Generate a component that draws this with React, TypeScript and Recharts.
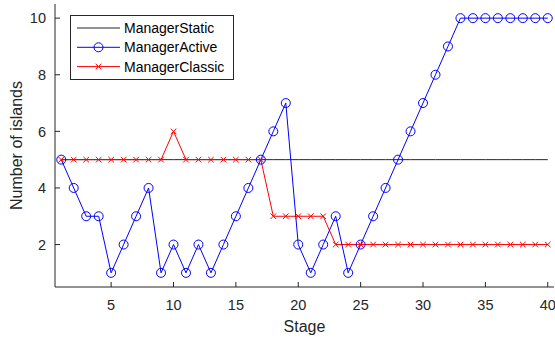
import React from 'react';
import { LineChart, Line, XAxis, YAxis } from 'recharts';

const stages = [1, 2, 3, 4, 5, 6, 7, 8, 9, 10, 11, 12, 13, 14, 15, 16, 17, 18, 19, 20, 21, 22, 23, 24, 25, 26, 27, 28, 29, 30, 31, 32, 33, 34, 35, 36, 37, 38, 39, 40];
const managerStatic = [5, 5, 5, 5, 5, 5, 5, 5, 5, 5, 5, 5, 5, 5, 5, 5, 5, 5, 5, 5, 5, 5, 5, 5, 5, 5, 5, 5, 5, 5, 5, 5, 5, 5, 5, 5, 5, 5, 5, 5];
const managerActive = [5, 4, 3, 3, 1, 2, 3, 4, 1, 2, 1, 2, 1, 2, 3, 4, 5, 6, 7, 2, 1, 2, 3, 1, 2, 3, 4, 5, 6, 7, 8, 9, 10, 10, 10, 10, 10, 10, 10, 10];
const managerClassic = [5, 5, 5, 5, 5, 5, 5, 5, 5, 6, 5, 5, 5, 5, 5, 5, 5, 3, 3, 3, 3, 3, 2, 2, 2, 2, 2, 2, 2, 2, 2, 2, 2, 2, 2, 2, 2, 2, 2, 2];
const xTicks = [5, 10, 15, 20, 25, 30, 35, 40];
const yTicks = [2, 4, 6, 8, 10];
const seriesNames = ['ManagerStatic', 'ManagerActive', 'ManagerClassic'];

const data = stages.map((s, i) => ({
  stage: s,
  st: managerStatic[i],
  ac: managerActive[i],
  cl: managerClassic[i],
}));

const AX = '#262626';
const FONT = '"Liberation Sans", Arial, Helvetica, sans-serif';
const TL = 5;
const TICK_FS = 14.5;

const BottomTick = (p: any) => (
  <g>
    <line x1={p.x} x2={p.x} y1={p.y} y2={p.y - TL} stroke={AX} strokeWidth={1} />
    <text x={p.x} y={p.y + 23} textAnchor="middle" fontSize={TICK_FS} fill={AX} fontFamily={FONT}>
      {p.payload.value}
    </text>
  </g>
);
const TopTick = (p: any) => (
  <line x1={p.x} x2={p.x} y1={p.y} y2={p.y + TL} stroke={AX} strokeWidth={1} />
);
const LeftTick = (p: any) => (
  <g>
    <line x1={p.x} x2={p.x + TL} y1={p.y} y2={p.y} stroke={AX} strokeWidth={1} />
    <text x={p.x - 9} y={p.y + 5.2} textAnchor="end" fontSize={TICK_FS} fill={AX} fontFamily={FONT}>
      {p.payload.value}
    </text>
  </g>
);
const RightTick = (p: any) => (
  <line x1={p.x} x2={p.x - TL} y1={p.y} y2={p.y} stroke={AX} strokeWidth={1} />
);

const CircleDot = (p: any) => (
  <circle key={`c${p.index}`} cx={p.cx} cy={p.cy} r={4.5} fill="none" stroke="#0000ff" strokeWidth={1} />
);
const CrossDot = (p: any) => (
  <path
    key={`x${p.index}`}
    d={`M${p.cx - 2.8},${p.cy - 2.8}L${p.cx + 2.8},${p.cy + 2.8}M${p.cx - 2.8},${p.cy + 2.8}L${p.cx + 2.8},${p.cy - 2.8}`}
    stroke="#ff0000"
    strokeWidth={1}
    fill="none"
  />
);

const legendColors = ['#262626', '#0000ff', '#ff0000'];

const LegendBox = () => (
  <svg
    width={164}
    height={65}
    style={{ position: 'absolute', left: 70, top: 15, overflow: 'visible' }}
  >
    <rect x={0.5} y={0.5} width={163} height={64} fill="#ffffff" stroke={AX} strokeWidth={1} />
    {seriesNames.map((name, i) => {
      const cy = 13 + i * 19.3;
      return (
        <g key={name}>
          <line x1={7} x2={50} y1={cy} y2={cy} stroke={legendColors[i]} strokeWidth={1} />
          {i === 1 && <circle cx={28.5} cy={cy} r={4.5} fill="none" stroke="#0000ff" strokeWidth={1} />}
          {i === 2 && (
            <path
              d={`M${28.5 - 2.8},${cy - 2.8}L${28.5 + 2.8},${cy + 2.8}M${28.5 - 2.8},${cy + 2.8}L${28.5 + 2.8},${cy - 2.8}`}
              stroke="#ff0000"
              strokeWidth={1}
            />
          )}
          <text x={54} y={cy + 5} fontSize={14} fill="#000" fontFamily={FONT}>
            {name}
          </text>
        </g>
      );
    })}
  </svg>
);

export default function App() {
  return (
    <div style={{ position: 'relative', width: 555, height: 339, background: '#fff' }}>
      <style>{'body{margin:0;}'}</style>
      <LineChart
        width={555}
        height={339}
        data={data}
        margin={{ top: 4, right: 1, bottom: 0, left: 0 }}
        style={{ fontFamily: FONT }}
      >
        <XAxis
          xAxisId="b"
          dataKey="stage"
          type="number"
          domain={[0.5, 40.5]}
          ticks={xTicks}
          orientation="bottom"
          height={52}
          tickSize={0}
          tickMargin={0}
          tickLine={false}
          axisLine={{ stroke: AX }}
          tick={BottomTick}
          interval={0}
          label={{ value: 'Stage', position: 'insideBottom', offset: 7.3, fontSize: 16, fill: AX, fontFamily: FONT }}
        />
        <XAxis
          xAxisId="t"
          dataKey="stage"
          type="number"
          domain={[0.5, 40.5]}
          ticks={xTicks}
          orientation="top"
          height={0}
          tickSize={0}
          tickMargin={0}
          tickLine={false}
          axisLine={{ stroke: AX }}
          tick={TopTick}
          interval={0}
        />
        <YAxis
          yAxisId="l"
          type="number"
          domain={[0.5, 10.5]}
          ticks={yTicks}
          orientation="left"
          width={55}
          tickSize={0}
          tickMargin={0}
          tickLine={false}
          axisLine={{ stroke: AX }}
          tick={LeftTick}
          interval={0}
          label={{
            value: 'Number of islands',
            angle: -90,
            position: 'insideLeft',
            offset: 16,
            fontSize: 16,
            fill: AX,
            fontFamily: FONT,
            style: { textAnchor: 'middle' },
          }}
        />
        <YAxis
          yAxisId="r"
          type="number"
          domain={[0.5, 10.5]}
          ticks={yTicks}
          orientation="right"
          width={0}
          tickSize={0}
          tickMargin={0}
          tickLine={false}
          axisLine={{ stroke: AX }}
          tick={RightTick}
          interval={0}
        />
        <Line
          xAxisId="b"
          yAxisId="l"
          dataKey="st"
          stroke="#262626"
          strokeWidth={1}
          dot={false}
          isAnimationActive={false}
        />
        <Line
          xAxisId="b"
          yAxisId="l"
          dataKey="cl"
          stroke="#ff0000"
          strokeWidth={1}
          dot={CrossDot}
          isAnimationActive={false}
        />
        <Line
          xAxisId="b"
          yAxisId="l"
          dataKey="ac"
          stroke="#0000ff"
          strokeWidth={1}
          dot={CircleDot}
          isAnimationActive={false}
        />
      </LineChart>
      <LegendBox />
    </div>
  );
}
